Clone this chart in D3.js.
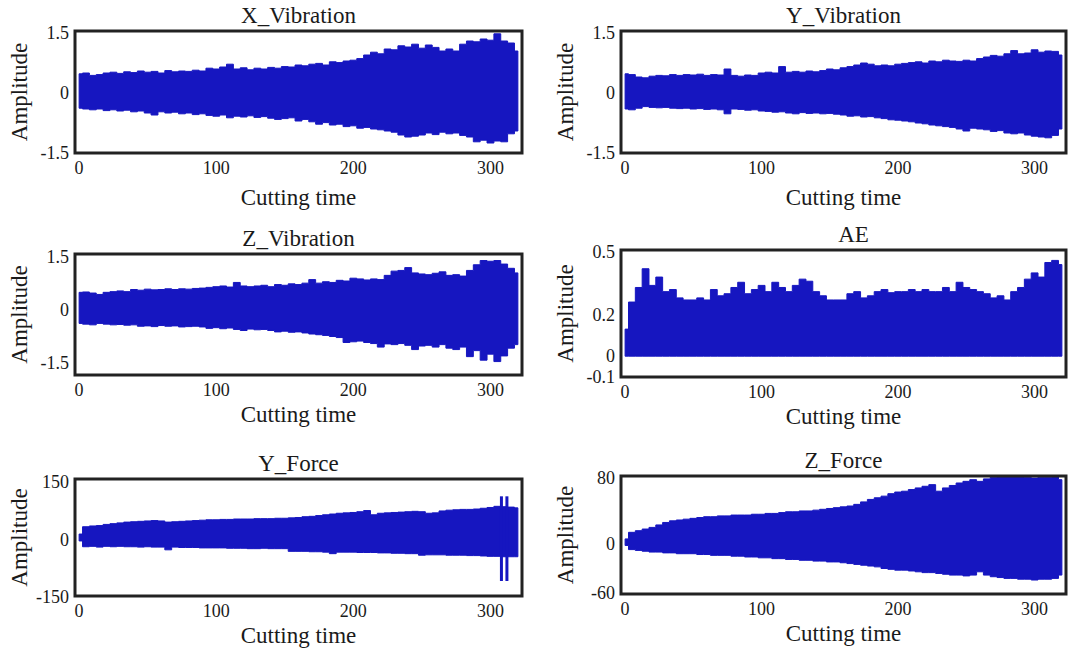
<!DOCTYPE html>
<html><head><meta charset="utf-8">
<script src="https://cdn.jsdelivr.net/npm/d3@7"></script>
<style>
body{margin:0;background:#fff}
svg{display:block}
text{font-family:"Liberation Serif","Times New Roman",serif;fill:#1a1a1a}
</style>
</head><body>
<svg id="chart" width="1077" height="653"></svg>
<script>
// ---- data ----
const cuttingTime = d3.range(0, 321, 5); // sample positions 0..320
const xTickValues = [0, 100, 200, 300];

const xVibUpper = [0.48,0.50,0.44,0.46,0.50,0.52,0.49,0.53,0.51,0.55,0.52,0.54,0.50,0.56,0.53,0.55,0.54,0.57,0.55,0.62,0.60,0.65,0.72,0.60,0.63,0.58,0.62,0.60,0.64,0.62,0.66,0.65,0.70,0.68,0.72,0.74,0.70,0.78,0.76,0.80,0.82,0.86,0.95,1.02,0.98,1.10,1.08,1.18,1.15,1.22,1.12,1.20,1.14,1.05,1.10,1.05,1.22,1.30,1.28,1.35,1.32,1.48,1.30,1.25,1.05];
const xVibLower = [-0.38,-0.40,-0.42,-0.40,-0.44,-0.42,-0.45,-0.43,-0.47,-0.45,-0.50,-0.55,-0.47,-0.50,-0.48,-0.52,-0.50,-0.54,-0.52,-0.56,-0.58,-0.55,-0.62,-0.58,-0.60,-0.57,-0.61,-0.59,-0.63,-0.66,-0.64,-0.62,-0.70,-0.66,-0.72,-0.78,-0.74,-0.80,-0.78,-0.84,-0.82,-0.88,-0.86,-0.90,-0.92,-0.95,-0.98,-1.05,-1.10,-1.08,-1.05,-1.00,-1.04,-0.98,-1.02,-1.00,-1.06,-1.10,-1.22,-1.18,-1.25,-1.20,-1.22,-1.02,-0.95];

const yVibUpper = [0.48,0.46,0.40,0.38,0.42,0.44,0.43,0.46,0.44,0.46,0.45,0.47,0.44,0.46,0.45,0.60,0.44,0.42,0.45,0.44,0.50,0.52,0.50,0.66,0.52,0.54,0.52,0.55,0.53,0.56,0.60,0.58,0.63,0.66,0.70,0.75,0.72,0.68,0.70,0.68,0.72,0.74,0.76,0.78,0.75,0.80,0.78,0.82,0.80,0.79,0.82,0.80,0.86,0.90,0.94,0.92,0.98,1.06,0.98,1.00,1.08,1.02,1.05,1.04,0.95];
const yVibLower = [-0.40,-0.42,-0.38,-0.34,-0.36,-0.37,-0.36,-0.38,-0.39,-0.38,-0.40,-0.39,-0.41,-0.40,-0.42,-0.52,-0.40,-0.41,-0.43,-0.42,-0.45,-0.46,-0.48,-0.47,-0.50,-0.52,-0.49,-0.51,-0.50,-0.52,-0.51,-0.53,-0.55,-0.58,-0.57,-0.60,-0.59,-0.62,-0.64,-0.67,-0.68,-0.70,-0.72,-0.75,-0.77,-0.80,-0.82,-0.84,-0.86,-0.90,-0.95,-0.88,-0.90,-0.92,-0.96,-0.94,-1.00,-1.02,-1.00,-1.05,-1.08,-1.10,-1.12,-1.06,-0.90];

const zVibUpper = [0.50,0.51,0.48,0.44,0.50,0.52,0.54,0.52,0.58,0.56,0.59,0.57,0.58,0.60,0.58,0.60,0.59,0.61,0.62,0.64,0.66,0.68,0.65,0.78,0.68,0.66,0.68,0.70,0.66,0.72,0.70,0.74,0.72,0.76,0.86,0.76,0.80,0.78,0.84,0.82,0.90,0.88,0.85,0.88,0.86,0.98,1.10,1.12,1.20,1.05,1.02,1.00,1.04,1.08,0.98,1.00,0.96,1.12,1.28,1.40,1.38,1.40,1.30,1.18,1.05];
const zVibLower = [-0.38,-0.40,-0.42,-0.38,-0.40,-0.42,-0.41,-0.43,-0.42,-0.46,-0.45,-0.47,-0.44,-0.46,-0.45,-0.48,-0.47,-0.46,-0.48,-0.52,-0.50,-0.53,-0.51,-0.55,-0.58,-0.54,-0.56,-0.55,-0.58,-0.62,-0.60,-0.63,-0.62,-0.65,-0.68,-0.70,-0.72,-0.75,-0.78,-0.92,-0.90,-0.88,-0.92,-0.95,-1.05,-0.96,-0.98,-0.95,-1.00,-1.12,-1.02,-1.00,-1.05,-0.98,-1.08,-1.12,-1.05,-1.32,-1.15,-1.42,-1.25,-1.46,-1.30,-1.08,-0.98];

const aeUpper = [0.13,0.26,0.33,0.42,0.34,0.38,0.31,0.32,0.28,0.27,0.27,0.28,0.27,0.32,0.29,0.30,0.33,0.355,0.30,0.32,0.34,0.31,0.355,0.33,0.31,0.34,0.37,0.36,0.31,0.29,0.27,0.27,0.27,0.30,0.31,0.28,0.29,0.31,0.32,0.305,0.31,0.31,0.32,0.31,0.32,0.31,0.31,0.33,0.31,0.355,0.33,0.32,0.31,0.30,0.28,0.29,0.27,0.31,0.33,0.37,0.40,0.38,0.45,0.46,0.44];
const aeLower = 0;

const yForceUpper = [14,33,35,36,39,41,43,45,46,47,48,49,48,45,46,47,48,49,50,51,51,52,52,53,53,53,54,54,54,55,55,56,57,59,60,62,64,66,68,69,70,72,75,64,68,69,70,71,72,73,72,68,69,74,76,77,78,78,79,81,83,86,85,84,82];
const yForceLower = [-4,-19,-18,-20,-18,-19,-18,-19,-19,-20,-19,-20,-20,-27,-20,-21,-21,-21,-22,-22,-22,-22,-23,-23,-23,-24,-24,-23,-24,-24,-24,-31,-31,-31,-32,-32,-33,-37,-33,-33,-33,-34,-34,-34,-35,-35,-36,-36,-37,-37,-41,-40,-40,-40,-41,-41,-41,-42,-42,-43,-44,-44,-45,-45,-45];
const yForceSpikeTimes = [308, 312];
const yForceSpikeTop = [112, 112];
const yForceSpikeBottom = [-108, -108];

const zForceUpper = [6,14,16,18,20,23,26,28,29,30,31,32,33,33,34,34,35,35,35,36,36,37,37,38,39,39,40,40,41,42,43,44,45,46,48,51,54,56,58,61,63,64,66,68,70,72,64,68,71,74,76,78,76,79,81,83,84,83,82,81,80,81,81,82,78];
const zForceLower = [-2,-7,-8,-9,-10,-10,-11,-11,-12,-12,-12,-13,-13,-14,-14,-14,-15,-15,-16,-16,-17,-17,-18,-18,-19,-19,-20,-20,-21,-21,-22,-22,-23,-24,-25,-26,-27,-28,-30,-31,-32,-32,-33,-34,-35,-35,-36,-37,-38,-38,-39,-38,-34,-38,-40,-41,-42,-42,-43,-43,-44,-43,-43,-42,-38];

const vibTicks = [-1.5, 0, 1.5];
const aeTicks = [-0.1, 0, 0.2, 0.5];
const yForceTicks = [-150, 0, 150];
const zForceTicks = [-60, 0, 80];

// ---- layout ----
const color = "#1616c0";
const panels = [
  {title:"X_Vibration", up:xVibUpper, lo:xVibLower, yDom:[-1.5,1.55], ticks:vibTicks, box:[75,522,31,153]},
  {title:"Y_Vibration", up:yVibUpper, lo:yVibLower, yDom:[-1.5,1.55], ticks:vibTicks, box:[621,1066,31,153]},
  {title:"Z_Vibration", up:zVibUpper, lo:zVibLower, yDom:[-1.84,1.585], ticks:vibTicks, box:[75,522,254,375]},
  {title:"AE", up:aeUpper, lo:null, yDom:[-0.1,0.51], ticks:aeTicks, box:[621,1066,250,377], titleShift:10},
  {title:"Y_Force", up:yForceUpper, lo:yForceLower, yDom:[-147,157], ticks:yForceTicks, box:[75,522,479,596],
    spikes:{t:yForceSpikeTimes, top:yForceSpikeTop, bot:yForceSpikeBottom}},
  {title:"Z_Force", up:zForceUpper, lo:zForceLower, yDom:[-61,82.5], ticks:zForceTicks, box:[621,1066,476,594]}
];

const svg = d3.select("#chart");

panels.forEach((p, i) => {
  const [x0, x1, y0, y1] = p.box;
  const x = d3.scaleLinear().domain([-3, 323]).range([x0, x1]);
  const y = d3.scaleLinear().domain(p.yDom).range([y1, y0]);
  const g = svg.append("g");

  const clipId = "clip" + i;
  svg.append("defs").append("clipPath").attr("id", clipId)
    .append("rect").attr("x", x0).attr("y", y0).attr("width", x1 - x0).attr("height", y1 - y0);

  const rows = cuttingTime.map((t, k) => ({t, hi: p.up[k], lo: p.lo ? p.lo[k] : aeLower}));
  const area = d3.area()
    .x(d => x(d.t))
    .y0(d => y(d.lo))
    .y1(d => y(d.hi))
    .curve(d3.curveStep);

  const plot = g.append("g").attr("clip-path", `url(#${clipId})`);
  plot.append("path").datum(rows).attr("d", area).attr("fill", color).attr("stroke", color)
    .attr("stroke-width", 1);

  if (p.spikes) {
    plot.selectAll("line.spike").data(p.spikes.t).join("line")
      .attr("x1", d => x(d)).attr("x2", d => x(d))
      .attr("y1", (d, k) => y(p.spikes.top[k]))
      .attr("y2", (d, k) => y(p.spikes.bot[k]))
      .attr("stroke", color).attr("stroke-width", 3);
  }

  // frame
  g.append("rect").attr("x", x0).attr("y", y0).attr("width", x1 - x0).attr("height", y1 - y0)
    .attr("fill", "none").attr("stroke", "#222").attr("stroke-width", 3);

  // y tick labels
  g.selectAll("text.yt").data(p.ticks).join("text")
    .attr("x", x0 - 6).attr("y", d => y(d)).attr("dy", "0.35em")
    .attr("text-anchor", "end").attr("font-size", 18).text(d => String(d));

  // x tick labels
  g.selectAll("text.xt").data(xTickValues).join("text")
    .attr("x", d => x(d)).attr("y", y1 + 15).attr("dy", "0.35em")
    .attr("text-anchor", "middle").attr("font-size", 18).text(d => String(d));

  // title
  g.append("text").attr("x", (x0 + x1) / 2 + (p.titleShift || 0)).attr("y", y0 - 16).attr("dy", "0.35em")
    .attr("text-anchor", "middle").attr("font-size", 23).text(p.title);

  // x label
  g.append("text").attr("x", (x0 + x1) / 2).attr("y", y1 + (i < 2 ? 44 : 39)).attr("dy", "0.35em")
    .attr("text-anchor", "middle").attr("font-size", 23).text("Cutting time");

  // y label
  const cy = (y0 + y1) / 2;
  g.append("text").attr("transform", `translate(${x0 - 56},${cy}) rotate(-90)`).attr("dy", "0.35em")
    .attr("text-anchor", "middle").attr("font-size", 23).text("Amplitude");
});
</script>
</body></html>
